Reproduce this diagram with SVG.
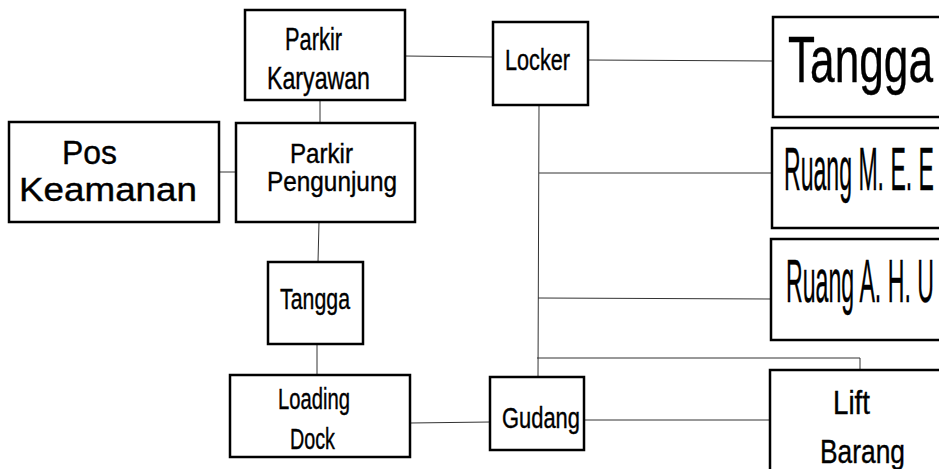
<svg xmlns="http://www.w3.org/2000/svg" width="939" height="469" viewBox="0 0 939 469">
<style>
.box{fill:#fff;stroke:#000;stroke-width:2.5}
.ln{fill:none;stroke:#333;stroke-width:1}
text{font-family:"Liberation Sans",Arial,sans-serif;fill:#000;stroke:#000;stroke-width:0.4}
</style>
<rect width="939" height="469" fill="#fff"/>
<g id="connectors">
<line class="ln" x1="320" y1="100" x2="320" y2="123"/>
<line class="ln" x1="219" y1="172" x2="236" y2="172"/>
<line class="ln" x1="319" y1="222" x2="318" y2="262"/>
<line class="ln" x1="317" y1="344" x2="317" y2="375"/>
<line class="ln" x1="405" y1="56" x2="493" y2="57"/>
<line class="ln" x1="587" y1="60" x2="773" y2="61"/>
<line class="ln" x1="539" y1="105" x2="538" y2="377"/>
<line class="ln" x1="539" y1="173" x2="772" y2="173"/>
<line class="ln" x1="538" y1="298" x2="771" y2="299"/>
<polyline class="ln" points="537,358 860,358 860,370"/>
<line class="ln" x1="410" y1="423" x2="490" y2="422"/>
<line class="ln" x1="584" y1="420" x2="770" y2="420"/>
</g>
<g id="parkir-karyawan">
<rect class="box" x="245" y="10" width="160" height="90"/>
<text x="285" y="50" font-size="32" textLength="57" lengthAdjust="spacingAndGlyphs">Parkir</text>
<text x="267" y="89" font-size="32" textLength="103" lengthAdjust="spacingAndGlyphs">Karyawan</text>
</g>
<g id="pos-keamanan">
<rect class="box" x="9" y="122" width="210" height="100"/>
<text x="62" y="164" font-size="34" textLength="55" lengthAdjust="spacingAndGlyphs">Pos</text>
<text x="19" y="201" font-size="34" textLength="178" lengthAdjust="spacingAndGlyphs">Keamanan</text>
</g>
<g id="parkir-pengunjung">
<rect class="box" x="236" y="123" width="179" height="99"/>
<text x="290" y="163" font-size="28" textLength="63" lengthAdjust="spacingAndGlyphs">Parkir</text>
<text x="267" y="191" font-size="28" textLength="130" lengthAdjust="spacingAndGlyphs">Pengunjung</text>
</g>
<g id="tangga-kecil">
<rect class="box" x="268" y="262" width="95" height="82"/>
<text x="280" y="309" font-size="30" textLength="70" lengthAdjust="spacingAndGlyphs">Tangga</text>
</g>
<g id="loading-dock">
<rect class="box" x="230" y="375" width="180" height="82"/>
<text x="278" y="409" font-size="29" textLength="72" lengthAdjust="spacingAndGlyphs">Loading</text>
<text x="290" y="449" font-size="29" textLength="45" lengthAdjust="spacingAndGlyphs">Dock</text>
</g>
<g id="locker">
<rect class="box" x="493" y="22" width="95" height="83"/>
<text x="505" y="70" font-size="30" textLength="65" lengthAdjust="spacingAndGlyphs">Locker</text>
</g>
<g id="gudang">
<rect class="box" x="490" y="377" width="94" height="73"/>
<text x="502" y="428" font-size="29" textLength="78" lengthAdjust="spacingAndGlyphs">Gudang</text>
</g>
<g id="tangga">
<rect class="box" x="773" y="17" width="180" height="100"/>
<text x="788" y="82" font-size="64" textLength="145" lengthAdjust="spacingAndGlyphs">Tangga</text>
</g>
<g id="ruang-mee">
<rect class="box" x="772" y="128" width="180" height="100"/>
<text x="784" y="190" font-size="62" textLength="150" lengthAdjust="spacingAndGlyphs">Ruang M. E. E</text>
</g>
<g id="ruang-ahu">
<rect class="box" x="771" y="239" width="180" height="101"/>
<text x="786" y="302" font-size="62" textLength="148" lengthAdjust="spacingAndGlyphs">Ruang A. H. U</text>
</g>
<g id="lift-barang">
<rect class="box" x="770" y="370" width="180" height="110"/>
<text x="833" y="414" font-size="34" textLength="37" lengthAdjust="spacingAndGlyphs">Lift</text>
<text x="820" y="463" font-size="34" textLength="85" lengthAdjust="spacingAndGlyphs">Barang</text>
</g>
</svg>
